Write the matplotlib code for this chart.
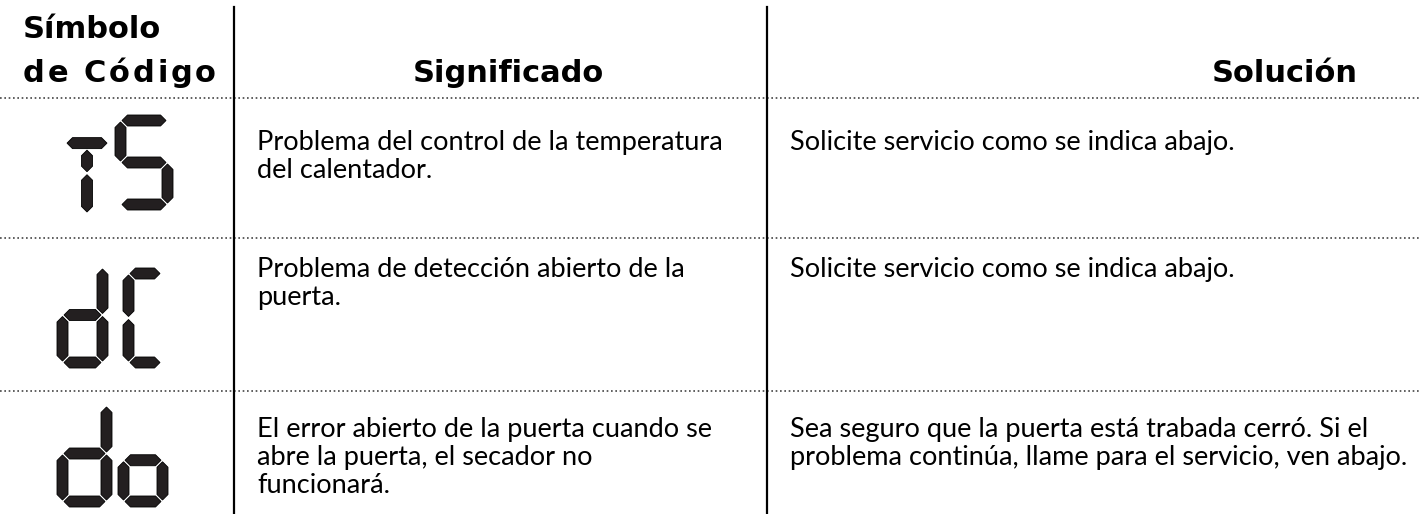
import matplotlib
matplotlib.use("Agg")
import matplotlib.pyplot as plt
from matplotlib.patches import Polygon

plt.rcParams['font.family'] = ['Lato', 'DejaVu Sans']

# table content
headers = ["Símbolo\nde Código", "Significado", "Solución"]
codes = ["tS", "dC", "do"]
meanings = [
    "Problema del control de la temperatura\ndel calentador.",
    "Problema de detección abierto de la\npuerta.",
    "El error abierto de la puerta cuando se\nabre la puerta, el secador no\nfuncionará.",
]
solutions = [
    "Solicite servicio como se indica abajo.",
    "Solicite servicio como se indica abajo.",
    "Sea seguro que la puerta está trabada cerró. Si el\nproblema continúa, llame para el servicio, ven abajo.",
]

# seven segment map
SEGS = {
    'S': 'afgcd',
    'd': 'bcdeg',
    'C': 'afed',
    'o': 'cdeg',
}

INK = '#231f20'


def hbar(ax, x1, x2, y, t):
    pts = [(x1, y), (x1 + t/2, y - t/2), (x2 - t/2, y - t/2), (x2, y),
           (x2 - t/2, y + t/2), (x1 + t/2, y + t/2)]
    ax.add_patch(Polygon(pts, closed=True, fc=INK, ec='black', lw=0.6))


def vbar(ax, x, y1, y2, t):
    pts = [(x, y1), (x + t/2, y1 + t/2), (x + t/2, y2 - t/2), (x, y2),
           (x - t/2, y2 - t/2), (x - t/2, y1 + t/2)]
    ax.add_patch(Polygon(pts, closed=True, fc=INK, ec='black', lw=0.6))


def digit(ax, ch, L, R, T, B, t=11, g=1.5):
    if ch == 't':
        xc = (L + R) / 2
        yb = T + (B - T) * 0.29
        hbar(ax, L, R, yb, t)
        ym = T + (B - T) * 0.6
        vbar(ax, xc, yb + t/2 + g, ym - g, t)
        vbar(ax, xc, ym + g, B, t)
        return
    xl, xr = L + t/2, R - t/2
    ya, yd = T + t/2, B - t/2
    yg = (ya + yd) / 2
    s = SEGS[ch]
    if 'a' in s: hbar(ax, xl + g, xr - g, ya, t)
    if 'g' in s: hbar(ax, xl + g, xr - g, yg, t)
    if 'd' in s: hbar(ax, xl + g, xr - g, yd, t)
    if 'f' in s: vbar(ax, xl, ya + g, yg - g, t)
    if 'e' in s: vbar(ax, xl, yg + g, yd - g, t)
    if 'b' in s: vbar(ax, xr, ya + g, yg - g, t)
    if 'c' in s: vbar(ax, xr, yg + g, yd - g, t)


def spaced_text(ax, x, y, s, track, **kw):
    # letter-spaced header text
    r = ax.figure.canvas.get_renderer()
    for ch in s:
        if ch == ' ':
            x += 10 + track
            continue
        t = ax.text(x, y, ch, **kw)
        x += t.get_window_extent(r).width + track


fig = plt.figure(figsize=(14.21, 5.14), dpi=100)
ax = fig.add_axes([0, 0, 1, 1])
ax.set_xlim(0, 1421)
ax.set_ylim(514, 0)
ax.axis('off')

# headers
hfont = dict(fontsize=22, fontweight='bold', family='DejaVu Sans', va='baseline')
top, bottom = headers[0].split("\n")
ax.text(23, 38, top, **hfont)
spaced_text(ax, 23, 82, bottom, 2.8, **hfont)
ax.text(508, 82, headers[1], ha='center', **hfont)
ax.text(1285, 82, headers[2], ha='center', **hfont)

# grid lines
for y in [98, 238, 391]:
    ax.plot([0, 1421], [y, y], color='#444444', lw=1.2, ls=(0, (1, 1.6)))
for x in [234, 767]:
    ax.plot([x, x], [7, 514], color='black', lw=1.6)

# code symbols
boxes = [
    [(67, 107, 115, 212), (115, 173, 115, 210)],
    [(57, 108, 262, 368), (123, 167, 268, 368)],
    [(57, 112, 400, 507), (118, 168, 420, 507)],
]
for code, bx in zip(codes, boxes):
    for ch, (L, R, T, B) in zip(code, bx):
        if ch == 'o':
            T = (T + B) / 2 - 50
            digit(ax, 'o', L, R, T, B, t=11)
        else:
            digit(ax, ch, L, R, T, B, t=11)

# body text
row_base = [150, 277, 437]
for i in range(3):
    for j, line in enumerate(meanings[i].split("\n")):
        ax.text(257, row_base[i] + j * 28, line, fontsize=19.5, va='baseline')
    for j, line in enumerate(solutions[i].split("\n")):
        ax.text(790, row_base[i] + j * 28, line, fontsize=19.5, va='baseline')

fig.savefig("out.png", dpi=100)
